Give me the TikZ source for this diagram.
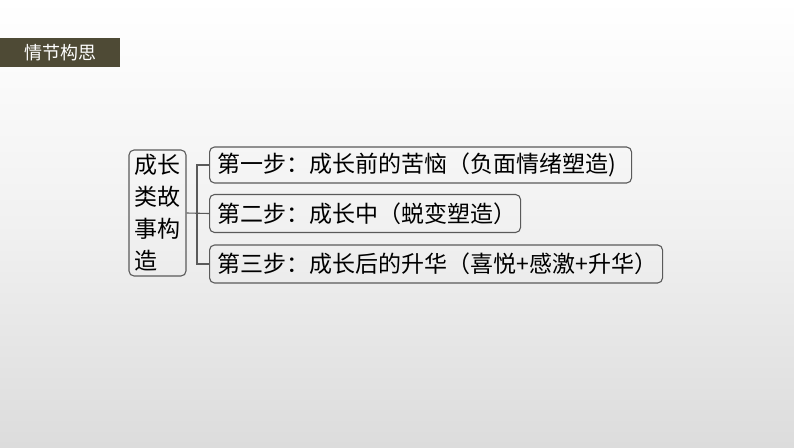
\documentclass[tikz,border=0pt]{standalone}
\usepackage{fontspec}
\setmainfont{Noto Sans CJK SC}
\definecolor{titlecol}{HTML}{4E4A35}
\definecolor{linecol}{HTML}{5A5A5A}
\definecolor{bgbottom}{HTML}{DCDCDC}
\tikzset{
  box/.style={draw=linecol, line width=1.1pt, rounded corners=5pt, inner xsep=8pt, inner ysep=0pt, align=left, font=\fontsize{23}{27}\selectfont, anchor=west},
  conn/.style={draw=linecol, line width=1.1pt}
}
\begin{document}
\begin{tikzpicture}[x=1pt,y=-1pt]
\shade[top color=white, bottom color=bgbottom, middle color=white!60!bgbottom] (0,0) rectangle (794,447);
\useasboundingbox (0,0) rectangle (794,447);
\node[fill=titlecol, text=white, minimum width=120pt, minimum height=29pt, inner sep=0pt, anchor=north west, font=\fontsize{18}{20}\selectfont] (title) at (0,38) {情节构思};
\node[draw=linecol, line width=1.1pt, rounded corners=5pt, minimum width=57pt, minimum height=126pt, inner sep=0pt, align=left, font=\fontsize{23}{32}\selectfont] (root) at (157.5,213) {成长\\类故\\事构\\造};
\node[box, text width=406pt, minimum height=36pt] (b1) at (209,165) {\mbox{第一步：成长前的苦恼（负面情绪塑造)}};
\node[box, text width=295pt, minimum height=38pt] (b2) at (209,213.5) {\mbox{第二步：成长中（蜕变塑造）}};
\node[box, text width=437pt, minimum height=38pt] (b3) at (209,264) {\mbox{第三步：成长后的升华（喜悦+感激+升华）}};
\draw[conn] (root.east) -- (b2.west);
\draw[conn] (b1.west) -- ++(-12,0) coordinate (j1) |- (b3.west);
\end{tikzpicture}
\end{document}
